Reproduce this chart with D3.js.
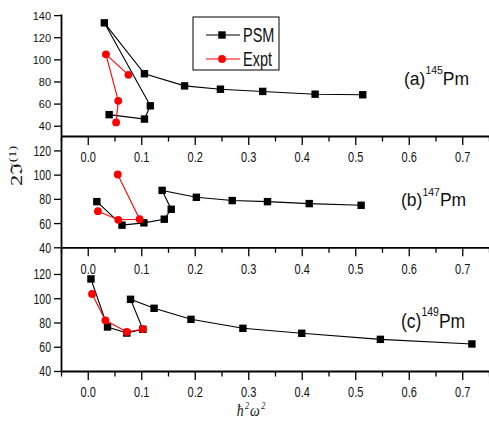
<!DOCTYPE html>
<html>
<head>
<meta charset="utf-8">
<script src="https://cdn.jsdelivr.net/npm/d3@7"></script>
<style>
  body { margin: 0; background: #fff; }
  svg { display: block; }
  text { font-family: "Liberation Sans", Arial, sans-serif; fill: #111; }
</style>
</head>
<body>
<div id="chart"></div>
<script>
// x axis (shared by the three panels)
var xMajor = [0, 0.1, 0.2, 0.3, 0.4, 0.5, 0.6, 0.7];
var xMinor = [-0.05, 0.05, 0.15, 0.25, 0.35, 0.45, 0.55, 0.65, 0.75];
var xLabels = ["0.0", "0.1", "0.2", "0.3", "0.4", "0.5", "0.6", "0.7"];

// y ticks per panel
var yTicksA = [40, 60, 80, 100, 120, 140];
var yTicksB = [40, 60, 80, 100, 120];
var yTicksC = [40, 60, 80, 100, 120];

// (a) 145Pm
var psmAx = [0.040, 0.106, 0.117, 0.031, 0.106, 0.181, 0.248, 0.327, 0.425, 0.514];
var psmAy = [50, 46, 58, 133, 87, 76, 73, 71, 68.5, 68];
var exptAx = [0.053, 0.057, 0.034, 0.076];
var exptAy = [43, 62.5, 104.5, 86];

// (b) 147Pm
var psmBx = [0.017, 0.064, 0.105, 0.143, 0.156, 0.139, 0.203, 0.270, 0.336, 0.414, 0.511];
var psmBy = [77.7, 58.3, 60.2, 63.2, 71.4, 87, 81.3, 78.6, 77.7, 76.1, 74.7];
var exptBx = [0.019, 0.057, 0.097, 0.056];
var exptBy = [69.8, 62.7, 63.2, 100.1];

// (c) 149Pm
var psmCx = [0.006, 0.037, 0.073, 0.103, 0.080, 0.124, 0.193, 0.290, 0.400, 0.547, 0.718];
var psmCy = [115.9, 76.3, 71.3, 74.4, 99.1, 91.7, 82.6, 75.2, 71.1, 66.1, 62.3];
var exptCx = [0.008, 0.033, 0.073, 0.103];
var exptCy = [103.5, 81.8, 72.2, 74.6];

var W = 489, H = 428;
var left = 61, right = 489;

var svg = d3.select("#chart").append("svg")
	.attr("width", W)
	.attr("height", H);

var x = d3.scaleLinear().domain([-0.05, 0.75]).range([left, right]);

var panels = [
	{ top: 14, bottom: 136, dom: [30.7, 141], ticks: yTicksA, yfs: 11, ys: 1.05,
	  psm: [psmAx, psmAy], expt: [exptAx, exptAy], lab: "(a)", iso: "145",
	  lx: 404, ly: 85, ls: 1.06, labY: 156.2 },
	{ top: 136.5, bottom: 247.3, dom: [40, 131.5], ticks: yTicksB, yfs: 10.5, ys: 1.35,
	  psm: [psmBx, psmBy], expt: [exptBx, exptBy], lab: "(b)", iso: "147",
	  lx: 401, ly: 205.5, ls: 1.0, labY: 269 },
	{ top: 247.3, bottom: 371, dom: [40, 142], ticks: yTicksC, yfs: 10.5, ys: 1.35,
	  psm: [psmCx, psmCy], expt: [exptCx, exptCy], lab: "(c)", iso: "149",
	  lx: 401, ly: 328, ls: 1.18, labY: 391.7 }
];

function zip(xs, ys) {
	return xs.map(function (v, i) { return [v, ys[i]]; });
}

panels.forEach(function (p) {
	var y = d3.scaleLinear().domain(p.dom).range([p.bottom, p.top]);
	var line = d3.line().x(function (d) { return x(d[0]); }).y(function (d) { return y(d[1]); });

	// y axis
	var gy = svg.append("g").attr("transform", "translate(" + left + ",0)")
		.call(d3.axisLeft(y).tickValues(p.ticks).tickSize(7).tickSizeOuter(0));
	gy.select(".domain").attr("stroke-width", 1.8);
	gy.selectAll(".tick line").attr("stroke-width", 1.3);
	gy.selectAll(".tick text")
		.attr("x", null).attr("dy", "0.35em")
		.attr("transform", "translate(-10,0) scale(1," + p.ys + ")")
		.style("font-size", p.yfs + "px")
		.attr("fill", "#111");

	// x axis, minor then major
	var gm = svg.append("g").attr("transform", "translate(0," + p.bottom + ")")
		.call(d3.axisBottom(x).tickValues(xMinor).tickSize(5.5).tickSizeOuter(0).tickFormat(""));
	gm.select(".domain").remove();
	gm.selectAll(".tick line").attr("stroke-width", 1.3);

	var gx = svg.append("g").attr("transform", "translate(0," + p.bottom + ")")
		.call(d3.axisBottom(x).tickValues(xMajor).tickSize(9).tickSizeOuter(0)
			.tickFormat(function (d, i) { return xLabels[i]; }));
	gx.select(".domain").attr("stroke-width", 1.8);
	gx.selectAll(".tick line").attr("stroke-width", 1.3);
	gx.selectAll(".tick text")
		.attr("y", null).attr("dy", "0.35em")
		.attr("transform", "translate(0," + (p.labY - p.bottom) + ") scale(1,1.4)")
		.style("font-size", "11px")
		.attr("fill", "#111");

	// PSM
	var psm = zip(p.psm[0], p.psm[1]);
	svg.append("path").datum(psm)
		.attr("d", line).attr("fill", "none").attr("stroke", "#000").attr("stroke-width", 1.1);
	svg.selectAll(null).data(psm).enter().append("rect")
		.attr("x", function (d) { return x(d[0]) - 3.7; })
		.attr("y", function (d) { return y(d[1]) - 3.7; })
		.attr("width", 7.4).attr("height", 7.4)
		.attr("fill", "#000");

	// Expt
	var ex = zip(p.expt[0], p.expt[1]);
	svg.append("path").datum(ex)
		.attr("d", line).attr("fill", "none").attr("stroke", "#ff0000").attr("stroke-width", 1.1);
	svg.selectAll(null).data(ex).enter().append("circle")
		.attr("cx", function (d) { return x(d[0]); })
		.attr("cy", function (d) { return y(d[1]); })
		.attr("r", 3.9)
		.attr("fill", "#ff0000");

	// panel label
	var t = svg.append("text")
		.attr("transform", "translate(" + p.lx + "," + p.ly + ") scale(1," + p.ls + ")")
		.style("font-size", "17.5px");
	t.append("tspan").text(p.lab);
	t.append("tspan").attr("dy", -10).style("font-size", "10.5px").text(p.iso);
	t.append("tspan").attr("dy", 10).text("Pm");
});

// legend
var lg = svg.append("g");
lg.append("rect").attr("x", 193).attr("y", 17).attr("width", 86).attr("height", 53)
	.attr("fill", "#fff").attr("stroke", "#000").attr("stroke-width", 1);
var legendItems = [
	{ name: "PSM", color: "#000", y: 35, shape: "square" },
	{ name: "Expt", color: "#ff0000", y: 59, shape: "circle" }
];
legendItems.forEach(function (it) {
	lg.append("line").attr("x1", 206).attr("x2", 240).attr("y1", it.y).attr("y2", it.y)
		.attr("stroke", it.color).attr("stroke-width", 1.1);
	if (it.shape == "square") {
		lg.append("rect").attr("x", 222 - 3.7).attr("y", it.y - 3.7)
			.attr("width", 7.4).attr("height", 7.4).attr("fill", it.color);
	} else {
		lg.append("circle").attr("cx", 222).attr("cy", it.y).attr("r", 3.9).attr("fill", it.color);
	}
	lg.append("text")
		.attr("transform", "translate(243," + it.y + ") scale(1,1.4)")
		.attr("dy", "0.35em")
		.style("font-size", "14.5px")
		.text(it.name);
});

// y label
var yl = svg.append("text")
	.attr("transform", "translate(22,166) rotate(-90) scale(1.4,1)")
	.attr("text-anchor", "middle")
	.style("font-family", "'Liberation Serif', 'DejaVu Serif', serif")
	.style("font-size", "16px");
yl.append("tspan").text("2\u2111");
yl.append("tspan").attr("dy", -6).style("font-size", "10px").text("(1)");

// x label
var xl = svg.append("text")
	.attr("transform", "translate(251,416) scale(0.92,1.05)")
	.attr("text-anchor", "middle")
	.style("font-family", "'Liberation Serif', 'DejaVu Serif', serif")
	.style("font-style", "italic")
	.style("font-size", "15px");
xl.append("tspan").text("\u0127");
xl.append("tspan").attr("dx", 1.5).attr("dy", -7).style("font-size", "9px").text("2");
xl.append("tspan").attr("dx", 1).attr("dy", 7).text("\u03c9");
xl.append("tspan").attr("dx", 1.5).attr("dy", -7).style("font-size", "9px").text("2");
</script>
</body>
</html>
